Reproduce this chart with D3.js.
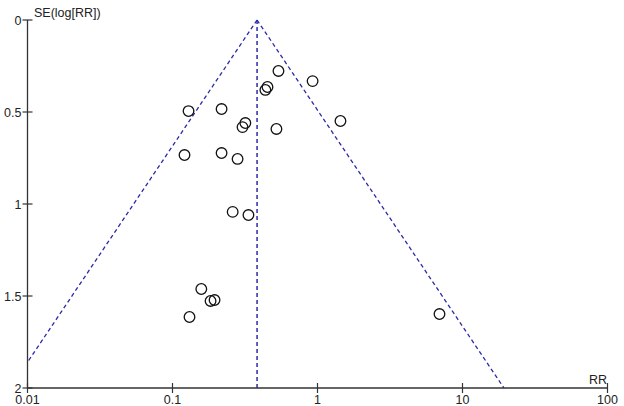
<!DOCTYPE html>
<html><head><meta charset="utf-8">
<script src="https://cdn.jsdelivr.net/npm/d3@7"></script>
<style>
html,body{margin:0;padding:0;background:#fff;}
svg{display:block;font-family:"Liberation Sans",Arial,sans-serif;}
</style></head>
<body><svg id="chart" width="624" height="406"></svg>
<script>
// Study estimates (relative risk) and their standard errors of log(RR)
const studyRR = [0.538, 0.925, 0.452, 0.437, 0.129, 0.218, 1.44, 0.318, 0.304, 0.521,
                 0.121, 0.218, 0.281, 0.260, 0.334, 0.158, 0.183, 0.195, 0.131, 6.94];
const studySE = [0.277, 0.332, 0.364, 0.380, 0.495, 0.484, 0.549, 0.560, 0.582, 0.592,
                 0.734, 0.723, 0.755, 1.043, 1.060, 1.462, 1.527, 1.522, 1.614, 1.598];
const pooledRR = [0.383];
const xTicks = [0.01, 0.1, 1, 10, 100];
const xTickLabels = ["0.01", "0.1", "1", "10", "100"];
const yTicks = [0, 0.5, 1, 1.5, 2];
const yTickLabels = ["0", "0.5", "1", "1.5", "2"];
const seMax = [2];

const svg = d3.select("#chart");
const x = d3.scaleLog().domain([0.01, 100]).range([27.5, 607.5]);
const y = d3.scaleLinear().domain([0, 2]).range([20, 388]);
const axisColor = "#333";
const lineColor = "#2a2aa8";
const fs = 12.5;

// funnel lines
const p = pooledRR[0];
const z = 1.96;
function funnelPts(sign){
  const seAtEdge = sign < 0 ? Math.log(p/0.01)/z : Math.log(100/p)/z;
  const seEnd = Math.min(seMax[0], seAtEdge);
  return [[p, 0], [Math.exp(Math.log(p) + sign*z*seEnd), seEnd]];
}
const lineGen = d3.line().x(d => x(d[0])).y(d => y(d[1]));
[ -1, 1 ].forEach(s => {
  svg.append("path").attr("d", lineGen(funnelPts(s)))
    .attr("fill","none").attr("stroke",lineColor).attr("stroke-width",1.3)
    .attr("stroke-dasharray","4,3");
});
svg.append("path").attr("d", lineGen([[p,0],[p,seMax[0]]]))
  .attr("fill","none").attr("stroke",lineColor).attr("stroke-width",1.5)
  .attr("stroke-dasharray","4,3");

// axes
const gy = svg.append("g");
gy.append("line").attr("x1",x(0.01)).attr("x2",x(0.01)).attr("y1",y(0)).attr("y2",y(2))
  .attr("stroke",axisColor).attr("stroke-width",1.3);
yTicks.forEach((t,i) => {
  gy.append("line").attr("x1",x(0.01)-5).attr("x2",x(0.01)+5).attr("y1",y(t)).attr("y2",y(t))
    .attr("stroke",axisColor).attr("stroke-width",1.2);
  gy.append("text").attr("x",x(0.01)-6).attr("y",y(t)+4.5).attr("text-anchor","end")
    .attr("font-size",fs).attr("fill","#222").text(yTickLabels[i]);
});
const gx = svg.append("g");
gx.append("line").attr("x1",x(0.01)).attr("x2",x(100)).attr("y1",y(2)).attr("y2",y(2))
  .attr("stroke",axisColor).attr("stroke-width",1.3);
xTicks.forEach((t,i) => {
  gx.append("line").attr("x1",x(t)).attr("x2",x(t)).attr("y1",y(2)-5).attr("y2",y(2)+5)
    .attr("stroke",axisColor).attr("stroke-width",1.2);
  gx.append("text").attr("x",x(t)).attr("y",y(2)+16).attr("text-anchor","middle")
    .attr("font-size",fs).attr("fill","#222").text(xTickLabels[i]);
});
svg.append("text").attr("x",34).attr("y",17).attr("font-size",fs).attr("fill","#222").text("SE(log[RR])");
svg.append("text").attr("x",607).attr("y",384).attr("text-anchor","end").attr("font-size",fs).attr("fill","#222").text("RR");

// points
svg.append("g").selectAll("circle").data(studyRR.map((r,i)=>[r,studySE[i]])).join("circle")
  .attr("cx", d => x(d[0])).attr("cy", d => y(d[1])).attr("r", 5.3)
  .attr("fill","none").attr("stroke","#111").attr("stroke-width",1.3);
</script></body></html>
